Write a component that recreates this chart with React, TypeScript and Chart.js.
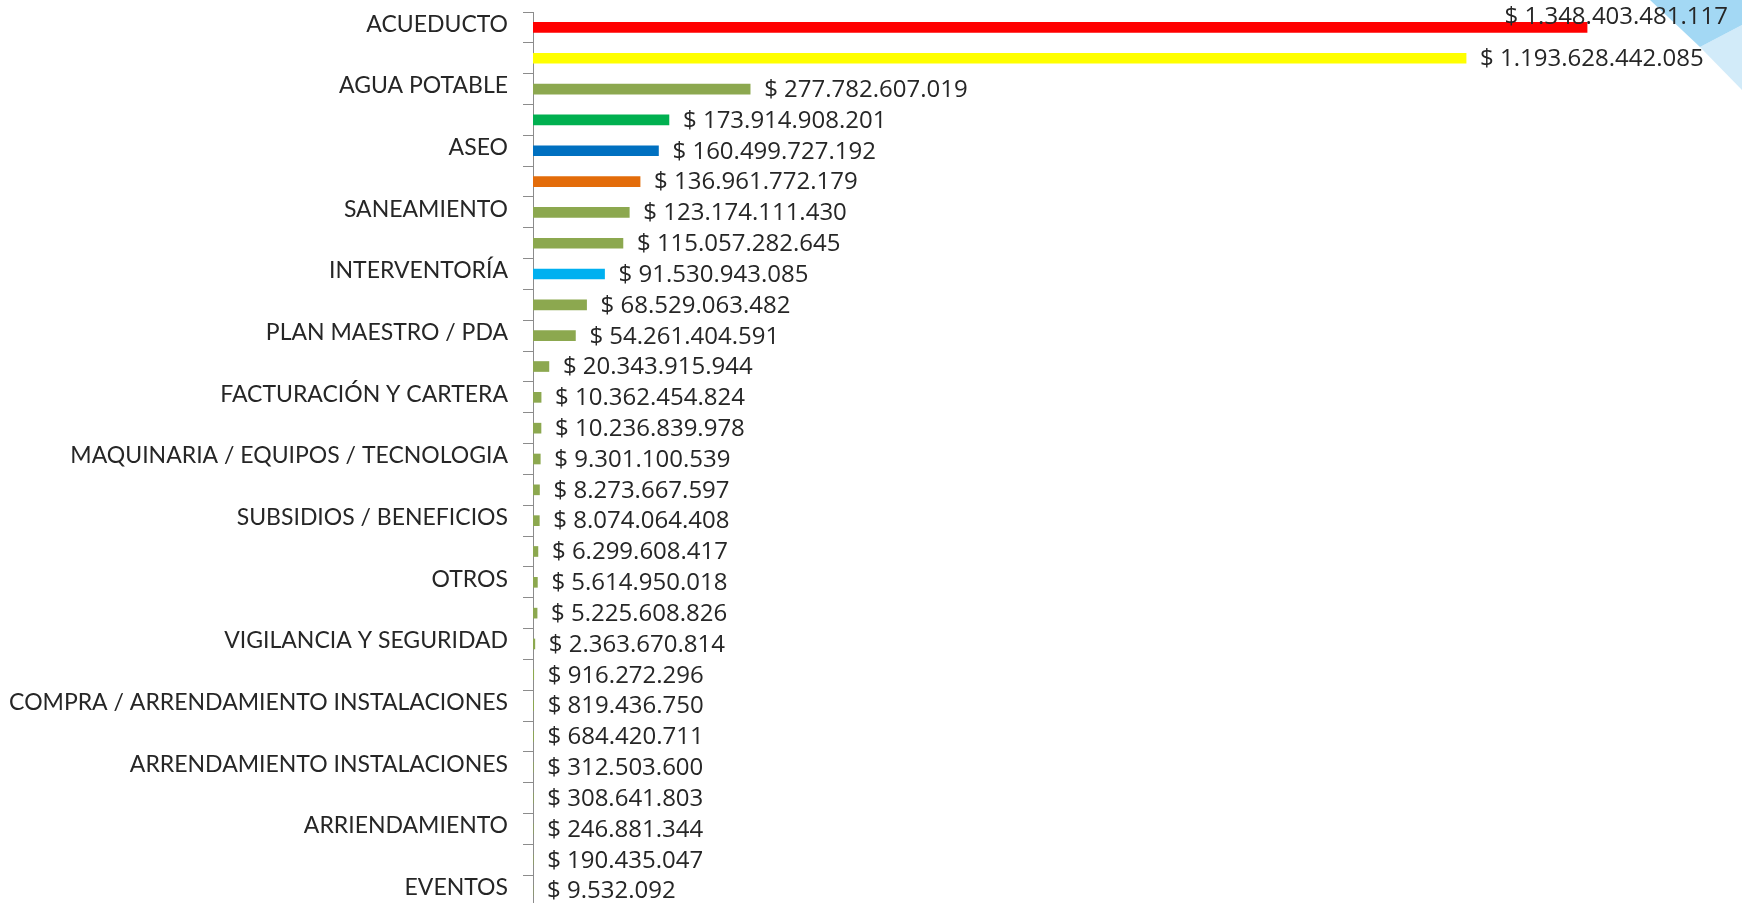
import React, { useEffect, useRef } from "react";
import { Chart, registerables } from "chart.js";

Chart.register(...registerables);

const categories: string[] = [
  "ACUEDUCTO", "",
  "AGUA POTABLE", "",
  "ASEO", "",
  "SANEAMIENTO", "",
  "INTERVENTORÍA", "",
  "PLAN MAESTRO / PDA", "",
  "FACTURACIÓN Y CARTERA", "",
  "MAQUINARIA / EQUIPOS / TECNOLOGIA", "",
  "SUBSIDIOS / BENEFICIOS", "",
  "OTROS", "",
  "VIGILANCIA Y SEGURIDAD", "",
  "COMPRA / ARRENDAMIENTO INSTALACIONES", "",
  "ARRENDAMIENTO INSTALACIONES", "",
  "ARRIENDAMIENTO", "",
  "EVENTOS",
];

const values: number[] = [
  1348403481117, 1193628442085, 277782607019, 173914908201, 160499727192,
  136961772179, 123174111430, 115057282645, 91530943085, 68529063482,
  54261404591, 20343915944, 10362454824, 10236839978, 9301100539,
  8273667597, 8074064408, 6299608417, 5614950018, 5225608826,
  2363670814, 916272296, 819436750, 684420711, 312503600,
  308641803, 246881344, 190435047, 9532092,
];

const OLIVE = "#8CA84F";
const barColors: string[] = [
  "#FF0000", "#FFFF00", OLIVE, "#00B050", "#0070C0",
  "#E36C0A", OLIVE, OLIVE, "#00B0F0", OLIVE,
  OLIVE, OLIVE, OLIVE, OLIVE, OLIVE,
  OLIVE, OLIVE, OLIVE, OLIVE, OLIVE,
  OLIVE, OLIVE, OLIVE, OLIVE, OLIVE,
  OLIVE, OLIVE, OLIVE, OLIVE,
];

const CAT_FONT = "Lato";
const VAL_FONT = "'Open Sans'";

function formatPeso(v: number): string {
  const s = Math.round(v).toString();
  return "$ " + s.replace(/\B(?=(\d{3})+(?!\d))/g, ".");
}

const valueLabels = {
  id: "valueLabels",
  afterDatasetsDraw(chart: any) {
    const ctx = chart.ctx;
    const meta = chart.getDatasetMeta(0);
    const right = chart.width;
    ctx.save();
    ctx.font = `24px ${VAL_FONT}`;
    ctx.fillStyle = "#262626";
    ctx.textBaseline = "middle";
    ctx.textAlign = "left";
    meta.data.forEach((bar: any, i: number) => {
      const text = formatPeso(values[i]);
      const w = ctx.measureText(text).width;
      let x = bar.x + 14;
      let y = bar.y + 1;
      if (x + w > right - 12) {
        x = right - 14 - w;
        y = bar.y - 10;
      }
      ctx.fillText(text, x, y);
    });
    ctx.restore();
  },
};

export default function App() {
  const ref = useRef<HTMLCanvasElement | null>(null);

  useEffect(() => {
    if (!ref.current) return;
    const chart = new Chart(ref.current, {
      type: "bar",
      data: {
        labels: categories,
        datasets: [
          {
            data: values,
            backgroundColor: barColors,
            borderWidth: 0,
            barThickness: 10,
          },
        ],
      },
      options: {
        indexAxis: "y",
        animation: false,
        responsive: false,
        maintainAspectRatio: false,
        layout: { padding: { top: 12, bottom: 0, left: 0, right: 0 } },
        plugins: {
          legend: { display: false },
          tooltip: { enabled: false },
        },
        scales: {
          x: {
            display: false,
            min: 0,
            max: 1546600000000,
          },
          y: {
            afterFit: (scale: any) => {
              scale.width = 533;
              scale.paddingTop = 0;
              scale.paddingBottom = 0;
            },
            border: { display: true, color: "#8C8C8C", width: 1 },
            grid: {
              display: true,
              drawOnChartArea: false,
              drawTicks: true,
              tickLength: 10,
              color: "#8C8C8C",
              offset: true,
            },
            ticks: {
              autoSkip: false,
              padding: 15,
              labelOffset: -3,
              color: "#262626",
              font: { family: CAT_FONT, size: 23 },
            },
          },
        },
      },
      plugins: [valueLabels],
    });
    return () => chart.destroy();
  }, []);

  return (
    <div style={{ position: "absolute", left: 0, top: 0, width: 1742, height: 903, overflow: "hidden", background: "#fff" }}>
      <svg width={1742} height={903} style={{ position: "absolute", left: 0, top: 0, pointerEvents: "none" }}>
        <polygon points="1700,47 1742,25 1742,90" fill="#D2EBF9" />
        <polygon points="1650,0 1742,0 1742,25 1700,47" fill="#A3D8F4" />
      </svg>
      <canvas ref={ref} width={1742} height={906} style={{ position: "absolute", left: 0, top: 0 }} />
    </div>
  );
}
